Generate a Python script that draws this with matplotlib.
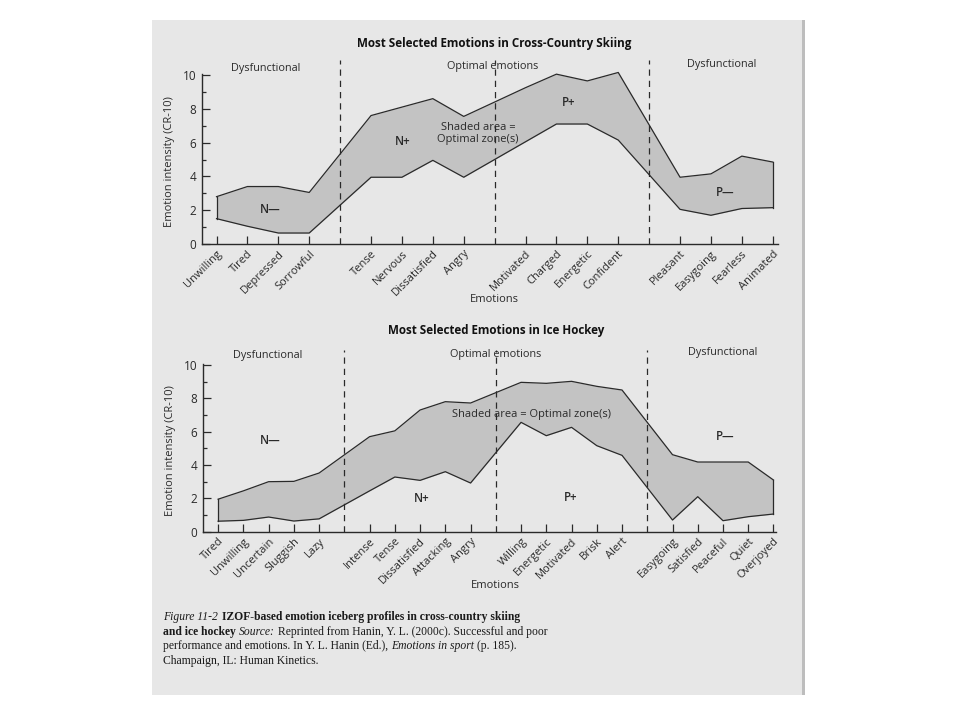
import matplotlib
matplotlib.use("Agg")
import matplotlib.pyplot as plt
from matplotlib.patches import Rectangle
from matplotlib.transforms import IdentityTransform

plt.rcParams['font.family'] = ['Open Sans', 'DejaVu Sans']

# ---- cross-country skiing ----
ski_emotions = ["Unwilling", "Tired", "Depressed", "Sorrowful",
                "Tense", "Nervous", "Dissatisfied", "Angry",
                "Motivated", "Charged", "Energetic", "Confident",
                "Pleasant", "Easygoing", "Fearless", "Animated"]
ski_upper = [2.8, 3.4, 3.4, 3.05, 7.6, 8.1, 8.6, 7.55,
             9.25, 10.05, 9.65, 10.15, 3.95, 4.15, 5.2, 4.85]
ski_lower = [1.5, 1.05, 0.65, 0.65, 3.95, 3.95, 4.95, 3.95,
             6.05, 7.1, 7.1, 6.15, 2.05, 1.7, 2.1, 2.15]

# ---- ice hockey ----
hockey_emotions = ["Tired", "Unwilling", "Uncertain", "Sluggish", "Lazy",
                   "Intense", "Tense", "Dissatisfied", "Attacking", "Angry",
                   "Willing", "Energetic", "Motivated", "Brisk", "Alert",
                   "Easygoing", "Satisfied", "Peaceful", "Quiet", "Overjoyed"]
hockey_upper = [1.95, 2.45, 3.0, 3.02, 3.52, 5.7, 6.05, 7.3, 7.8, 7.72,
                8.96, 8.9, 9.02, 8.72, 8.5, 4.62, 4.18, 4.18, 4.18, 3.1]
hockey_lower = [0.63, 0.68, 0.88, 0.64, 0.77, 2.45, 3.28, 3.08, 3.6, 2.92,
                6.56, 5.76, 6.26, 5.16, 4.58, 0.7, 2.1, 0.66, 0.9, 1.06]

sections = ["Dysfunctional", "Optimal emotions", "Dysfunctional"]

INK = '#2a2a2a'
SHADE = '#c3c3c3'
PAGE = '#e7e7e7'


def positions(n_items, group):
    # one empty slot between groups, that is where the dashed line goes
    xs = []
    for i in range(n_items):
        xs.append(i + i // group)
    return xs


def draw_panel(ax, emotions, upper, lower, group, title, sec_pos, notes, shaded_pos, shaded_txt, xlim):
    xs = positions(len(emotions), group)
    ax.set_facecolor('none')
    ax.fill_between(xs, lower, upper, color=SHADE, lw=0)
    ax.plot(xs, upper, color=INK, lw=0.9)
    ax.plot(xs, lower, color=INK, lw=0.9)
    ax.plot([xs[0], xs[0]], [lower[0], upper[0]], color=INK, lw=0.9)
    ax.plot([xs[-1], xs[-1]], [lower[-1], upper[-1]], color=INK, lw=0.9)

    for k in range(1, 4):
        xd = k * (group + 1) - 1
        ax.plot([xd, xd], [0, 10.9], color=INK, lw=0.9, ls=(0, (5, 4)), clip_on=False)

    ax.set_xlim(*xlim)
    ax.set_ylim(0, 11.2)
    for s in ['top', 'right']:
        ax.spines[s].set_visible(False)
    ax.spines['left'].set_bounds(0, 10.05)
    for s in ['left', 'bottom']:
        ax.spines[s].set_color(INK)
        ax.spines[s].set_linewidth(1.0)

    ax.set_xticks(xs)
    ax.set_xticklabels(emotions, rotation=45, ha='right', va='top',
                       rotation_mode='anchor', fontsize=8, color=INK)
    ax.set_yticks(range(0, 11, 2))
    ax.set_yticks(range(1, 11, 2), minor=True)
    ax.tick_params(axis='x', direction='in', length=5.5, width=0.9, pad=3, color=INK)
    ax.tick_params(axis='y', which='major', direction='in', length=5.5, width=0.9,
                   pad=4, labelsize=8.5, color=INK, labelcolor=INK)
    ax.tick_params(axis='y', which='minor', direction='in', length=2.8, width=0.9, color=INK)

    ax.set_ylabel("Emotion intensity (CR-10)", fontsize=8, color=INK)
    ax.yaxis.set_label_coords(-0.047, 0.435)

    for (sx, sy), name in zip(sec_pos, sections):
        ax.text(sx, sy, name, ha='center', va='center', fontsize=7.8, color=INK, clip_on=False)

    for nx, ny, lab in notes:
        ax.text(nx, ny, lab, ha='center', va='center', fontsize=8.3, color=INK,
                fontweight='semibold')

    ax.text(shaded_pos[0], shaded_pos[1], shaded_txt, ha='center', va='center',
            fontsize=8, color=INK, linespacing=1.15)

    mid = 2 * (group + 1) - 1
    ax.text(mid, title[1], title[0], ha='center', va='center', fontsize=8.4,
            fontweight='bold', color='#111111', clip_on=False)
    ax.text(mid, title[2], "Emotions", ha='center', va='center', fontsize=8,
            color=INK, clip_on=False)


fig = plt.figure(figsize=(9.6, 7.2), dpi=100)
fig.patch.set_facecolor('white')
fig.patches.append(Rectangle((152, 25), 651, 675, transform=IdentityTransform(),
                             facecolor=PAGE, edgecolor='none', zorder=-10))
fig.patches.append(Rectangle((802, 25), 3, 675, transform=IdentityTransform(),
                             facecolor='#bdbdbd', edgecolor='none', zorder=-9))

ax1 = fig.add_axes([202 / 960, (720 - 244) / 720, 576 / 960, 11.2 * 16.9 / 720])
draw_panel(ax1, ski_emotions, ski_upper, ski_lower, 4,
           ("Most Selected Emotions in Cross-Country Skiing", 11.88, -3.3),
           [(1.59, 10.4), (8.94, 10.5), (16.34, 10.63)],
           [(1.73, 2.05, "N\u2014"), (6.04, 6.05, "N+"), (11.38, 8.4, "P+"), (16.45, 3.05, "P\u2014")],
           (8.46, 6.55), "Shaded area =\nOptimal zone(s)", (-0.47, 18.17))

ax2 = fig.add_axes([203 / 960, (720 - 531.7) / 720, 573 / 960, 11.2 * 16.67 / 720])
draw_panel(ax2, hockey_emotions, hockey_upper, hockey_lower, 5,
           ("Most Selected Emotions in Ice Hockey", 12.06, -3.2),
           [(1.96, 10.54), (10.98, 10.62), (19.97, 10.76)],
           [(2.07, 5.46, "N\u2014"), (8.05, 2.0, "N+"), (13.98, 2.06, "P+"), (20.1, 5.7, "P\u2014")],
           (12.4, 7.06), "Shaded area = Optimal zone(s)", (-0.6, 22.1))

# ---- caption with mixed styles ----
renderer = fig.canvas.get_renderer()
CAP = 8.4


def width_of(txt, style, weight):
    t = fig.text(0, 0, txt, fontsize=CAP, family='Liberation Serif', style=style,
                 fontweight=weight, transform=IdentityTransform())
    w = t.get_window_extent(renderer).width
    t.remove()
    return w


space = width_of("a a", 'normal', 'normal') - width_of("aa", 'normal', 'normal')

caption = [
    [("Figure 11-2", 'italic', 'normal', 0), ("IZOF-based emotion iceberg profiles in cross-country skiing", 'normal', 'bold', 1.6)],
    [("and ice hockey", 'normal', 'bold', 0), ("Source:", 'italic', 'normal', 1), ("Reprinted from Hanin, Y. L. (2000c). Successful and poor", 'normal', 'normal', 1)],
    [("performance and emotions. In Y. L. Hanin (Ed.),", 'normal', 'normal', 0), ("Emotions in sport", 'italic', 'normal', 1), ("(p. 185).", 'normal', 'normal', 1)],
    [("Champaign, IL: Human Kinetics.", 'normal', 'normal', 0)],
]

y = 720 - 620
for line in caption:
    x = 163
    for txt, style, weight, gap in line:
        x += gap * space
        t = fig.text(x, y, txt, fontsize=CAP, family='Liberation Serif', style=style,
                     fontweight=weight, color='#1a1a1a', transform=IdentityTransform())
        x += t.get_window_extent(renderer).width
    y -= 14.6

fig.savefig("out.png", dpi=100)
